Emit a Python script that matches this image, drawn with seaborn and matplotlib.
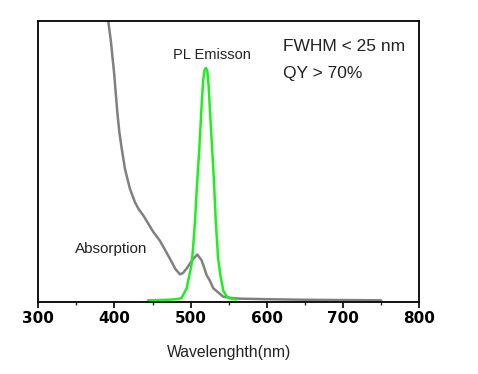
import numpy as np
import pandas as pd
import matplotlib
matplotlib.use("Agg")
import matplotlib.pyplot as plt
import seaborn as sns

# Absorption spectrum (normalized)
abs_wl = [380, 391.9, 395.4, 399.7, 402, 404, 406.5, 409.4, 413.8, 420.3, 426.9, 432, 437.8,
          450.9, 459.7, 472.8, 480, 485.9, 490, 494.7, 503.4, 508.7, 514.4, 521, 525.3,
          529.7, 536.2, 542.8, 551.6, 565, 600, 650, 700, 750]
abs_val = [1.3, 0.998, 0.925, 0.808, 0.73, 0.665, 0.60, 0.545, 0.470, 0.399, 0.351, 0.325,
           0.304, 0.245, 0.213, 0.149, 0.112, 0.093, 0.098, 0.114, 0.149, 0.164, 0.143, 0.090,
           0.070, 0.043, 0.028, 0.013, 0.009, 0.006, 0.004, 0.002, 0.001, 0.0]

# PL emission spectrum
pl_wl = [444, 470, 481, 488, 494.7, 497.5, 501.3, 503.4, 505.6, 508, 511.3, 514.4, 516.5,
         518.3, 520, 521.8, 523.5, 525.3, 528, 530.5, 533, 536, 539, 542.8, 547, 551.6, 560]
pl_val = [0.0, 0.002, 0.004, 0.008, 0.043, 0.08, 0.13, 0.197, 0.28, 0.40, 0.541, 0.70, 0.79,
          0.825, 0.832, 0.822, 0.77, 0.68, 0.55, 0.43, 0.28, 0.15, 0.09, 0.035, 0.015, 0.007,
          0.003]

x_ticks = [300, 400, 500, 600, 700, 800]

sns.set_style("white")
plt.rcParams['font.family'] = ['Liberation Sans', 'DejaVu Sans']

fig = plt.figure(figsize=(4.78, 3.74), dpi=100)
ax = fig.add_axes([0.0801, 0.1925, 0.797, 0.7513])

df_abs = pd.DataFrame({"wl": abs_wl, "val": abs_val})
df_pl = pd.DataFrame({"wl": pl_wl, "val": pl_val})

sns.lineplot(data=df_abs, x="wl", y="val", ax=ax, color="#808080", linewidth=1.8)
sns.lineplot(data=df_pl, x="wl", y="val", ax=ax, color="#1ef01e", linewidth=1.8)

ax.set_xlim(300, 800)
ax.set_ylim(-0.006, 1.0)
ax.set_xticks(x_ticks)
ax.set_xticks([350, 450, 550, 650, 750], minor=True)
ax.set_xticklabels([str(t) for t in x_ticks], fontweight="bold", fontsize=11,
                   family="DejaVu Sans")
ax.set_yticks([])
ax.tick_params(axis="x", which="major", direction="out", length=4, width=1.2,
               bottom=True, pad=2.5, colors="black")
ax.tick_params(axis="x", which="minor", direction="out", length=2.5, width=1.0,
               bottom=True)
for s in ax.spines.values():
    s.set_color("black")
    s.set_linewidth(1.3)
    s.set_visible(True)

ax.set_xlabel("Wavelenghth(nm)", fontsize=11.3, labelpad=14, color="#222222")
ax.set_ylabel("")

ax.text(0.457, 0.879, "PL Emisson", transform=ax.transAxes, fontsize=10.5,
        ha="center", va="center", color="#222222")
ax.text(0.643, 0.909, "FWHM < 25 nm", transform=ax.transAxes, fontsize=12.5,
        ha="left", va="center", color="#222222")
ax.text(0.643, 0.812, "QY > 70%", transform=ax.transAxes, fontsize=12.5,
        ha="left", va="center", color="#222222")
ax.text(0.096, 0.19, "Absorption", transform=ax.transAxes, fontsize=11,
        ha="left", va="center", color="#222222")

fig.savefig("out.png", dpi=100)
